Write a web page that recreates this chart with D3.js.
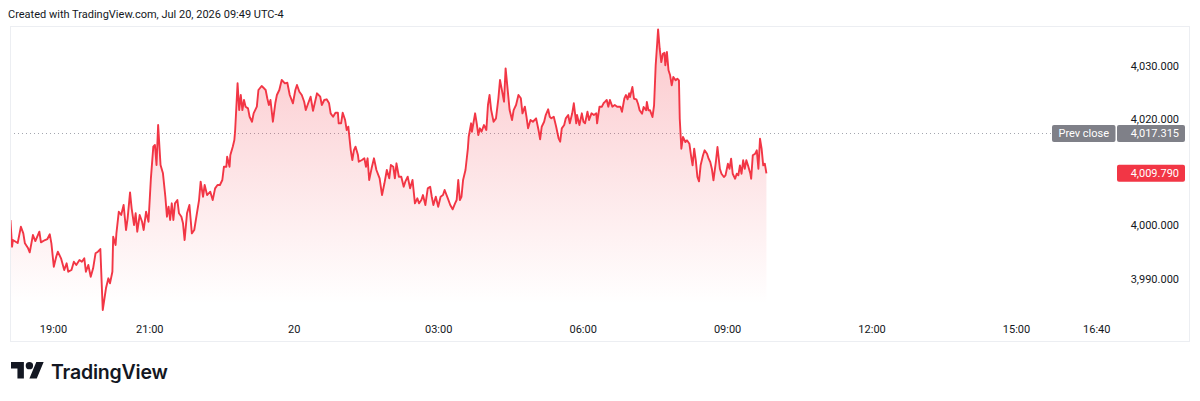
<!DOCTYPE html>
<html>
<head>
<meta charset="utf-8">
<script src="https://cdn.jsdelivr.net/npm/d3@7"></script>
<style>
  html, body { margin: 0; padding: 0; background: #fff; }
  svg { display: block; font-family: Roboto, "Noto Sans", sans-serif; }
</style>
</head>
<body>
<div id="chart"></div>
<script>
// minutes since the 18:00 session open (Jul 19)
const minutes = [
  7,9,10,16,20,23,25,29,31,35, 38,43,45,50,53,56,58,61,64,66,
  70,74,77,79,83,86,89,93,96,99, 101,104,107,110,113,116,119,122,126,129,
  131,134,135,138,139,142,145,148,151,153, 156,158,161,163,165,168,171,173,176,179,
  182,185,187,189,191,194,197,200,202,204, 206,208,210,212,215,217,220,222,224,227,
  230,233,236,239,242,244,247,249,252,256, 259,262,265,268,271,273,276,277,280,281,
  284,286,287,290,292,294,296,298,300,303, 305,308,310,314,316,320,323,325,327,329,
  331,334,337,339,342,345,349,352,355,359, 362,364,367,370,373,375,378,381,384,389,
  393,395,398,401,404,406,409,412,415,416, 419,421,424,426,428,431,433,435,437,440,
  441,445,448,450,452,454,457,460,463,467, 470,473,476,479,481,484,486,488,491,494,
  497,499,502,505,508,511,514,516,519,521, 524,527,530,532,534,537,540,543,546,548,
  552,555,558,561,563,565,567,569,571,574, 577,578,581,582,586,588,590,592,594,597,
  600,602,604,606,609,612,615,617,619,622, 624,627,629,632,634,637,640,643,645,648,
  650,652,655,658,662,665,667,669,672,674, 677,679,681,684,687,690,692,694,697,699,
  702,704,707,709,712,713,716,719,721,723, 726,728,731,734,737,738,741,744,746,748,
  750,752,754,757,760,763,767,769,772,774, 776,778,779,782,784,787,789,791,794,796,
  799,800,802,804,807,809,811,813,814,816, 818,820,822,823,825,827,829,831,833,836,
  838,840,841,843,845,848,850,853,855,857, 859,861,863,865,867,870,872,875,877,879,
  881,883,886,888,891,893,896,898,901,903, 905,907,910,912,914,916,918,920,922,924,
  926,929,930,932,935,937,939,941,943,945, 947,949
];

const prices = [
  4001.01,3995.98,3997.24,3996.68,3999.75,3998.50,3996.62,3995.68,3994.93,3998.18,
  3997.05,3998.81,3996.81,3997.24,3997.43,3998.32,3996.62,3992.22,3994.10,3995.04,
  3993.80,3991.60,3992.86,3991.28,3991.60,3993.16,3992.54,3993.48,3993.16,3993.80,
  3991.28,3992.54,3990.33,3991.92,3994.74,3995.04,3995.55,3984.07,3988.15,3990.03,
  3989.09,3991.28,3997.86,3996.30,3998.50,4002.57,4001.95,4003.83,3999.13,4001.33,
  4006.22,4003.21,4000.07,4002.27,3998.81,4001.95,4000.69,3999.13,4002.57,4000.69,
  4008.86,4014.81,4015.13,4011.36,4018.89,4011.36,4009.80,4005.39,4001.63,4003.51,
  4001.01,4004.15,4001.01,4004.15,4004.77,4002.27,4001.63,4000.39,3997.24,4002.27,
  4003.83,3998.50,3999.13,4001.95,4004.77,4008.22,4005.39,4007.60,4005.71,4006.34,
  4004.77,4006.97,4007.60,4007.60,4008.54,4011.04,4011.04,4012.92,4011.04,4013.24,
  4014.81,4016.07,4017.95,4026.74,4021.71,4024.54,4021.71,4023.60,4022.34,4022.03,
  4020.45,4019.51,4021.09,4022.34,4025.48,4026.23,4025.80,4025.48,4023.92,4022.66,
  4023.60,4019.51,4022.98,4024.54,4025.48,4027.36,4026.74,4026.85,4024.54,4022.98,
  4025.48,4026.42,4025.16,4024.54,4023.28,4021.71,4022.98,4024.22,4021.58,4024.86,
  4024.22,4022.66,4023.60,4023.73,4022.98,4021.09,4020.45,4021.21,4021.21,4019.21,
  4019.21,4021.21,4019.83,4017.95,4018.57,4014.18,4012.30,4014.18,4014.81,4013.24,
  4011.98,4012.30,4012.62,4011.04,4012.62,4008.54,4010.74,4012.62,4010.42,4008.86,
  4005.71,4007.92,4010.42,4008.86,4011.36,4011.04,4008.86,4011.68,4009.16,4009.16,
  4007.28,4008.22,4009.16,4006.97,4008.54,4004.15,4005.09,4004.15,4004.77,4005.71,
  4003.83,4006.97,4007.28,4005.39,4003.83,4005.39,4003.51,4005.39,4005.71,4006.66,
  4005.09,4003.83,4003.02,4004.15,4004.77,4008.54,4004.77,4005.39,4008.54,4010.42,
  4014.51,4016.69,4019.21,4017.63,4021.09,4019.21,4017.01,4018.27,4017.63,4018.89,
  4017.95,4022.66,4024.54,4021.71,4019.51,4020.15,4023.92,4027.36,4025.80,4023.28,
  4029.56,4024.86,4021.71,4019.83,4021.71,4022.66,4024.54,4023.92,4021.09,4022.34,
  4020.45,4018.27,4019.83,4019.51,4020.15,4017.95,4016.20,4018.57,4019.51,4020.77,
  4021.85,4020.45,4020.15,4020.45,4018.57,4016.39,4015.75,4018.27,4018.89,4020.15,
  4020.77,4019.21,4021.09,4022.98,4019.21,4020.77,4018.89,4021.09,4019.51,4019.21,
  4021.39,4019.83,4021.09,4020.77,4021.09,4019.21,4022.34,4022.34,4022.98,4023.28,
  4023.60,4022.34,4023.60,4022.34,4022.66,4022.34,4022.34,4021.39,4023.92,4024.54,
  4023.73,4024.86,4024.16,4026.04,4023.84,4023.73,4022.90,4021.66,4021.02,4022.28,
  4021.66,4023.22,4021.66,4021.66,4020.40,4022.60,4030.13,4034.51,4036.90,4033.25,
  4030.75,4032.31,4032.50,4030.13,4032.63,4029.19,4028.25,4026.36,4027.93,4027.30,
  4027.61,4027.30,4020.08,4014.43,4016.63,4015.69,4016.01,4015.37,4013.19,4011.30,
  4014.43,4012.25,4009.10,4008.29,4011.30,4013.19,4014.13,4013.49,4012.55,4011.93,
  4010.66,4008.48,4011.93,4014.75,4010.66,4009.72,4009.10,4009.42,4011.61,4010.66,
  4012.55,4009.72,4008.78,4009.72,4009.42,4011.30,4009.72,4012.25,4010.66,4012.25,
  4011.30,4009.72,4008.78,4013.19,4013.49,4014.13,4010.66,4016.31,4014.43,4011.30,
  4011.61,4009.79
];

const timeTickMinutes = [60, 180, 360, 540, 720, 900, 1080, 1260, 1360];
const timeTickLabels = ["19:00", "21:00", "20", "03:00", "06:00", "09:00", "12:00", "15:00", "16:40"];
const priceTicks = [3990, 4000, 4020, 4030];
const prevClose = 4017.315;
const lastPrice = 4009.79;
const headerText = "Created with TradingView.com, Jul 20, 2026 09:49 UTC-4";

const W = 1200, H = 401;
const RED = "#f23645";
const TEXT = "#131722";
const frame = { left: 10, top: 26, right: 1190, bottom: 342 };
const plot = { left: 10, top: 26, right: 1113, bottom: 313 };
const fillBottom = 304; // area fades out a bit above the time axis
const fmt = d3.format(",.3f");

const data = minutes.map((m, i) => ({ m: m, p: prices[i] }));

const svg = d3.select("#chart").append("svg").attr("width", W).attr("height", H);

// session 18:00 -> 17:00 next day
const x = d3.scaleLinear().domain([0, 1380]).range([4.85, 1112.3]);
const y = d3.scaleLinear().domain([3990, 4030]).range([278.5, 66]);

svg.append("text")
  .attr("x", 8).attr("y", 18)
  .attr("font-size", "11px").attr("fill", TEXT)
  .text(headerText);

svg.append("rect")
  .attr("x", frame.left + 0.5).attr("y", frame.top + 0.5)
  .attr("width", frame.right - frame.left - 1).attr("height", frame.bottom - frame.top - 1)
  .attr("fill", "none").attr("stroke", "#eceef2");

const defs = svg.append("defs");
defs.append("clipPath").attr("id", "plotClip")
  .append("rect")
  .attr("x", plot.left + 1).attr("y", plot.top + 1)
  .attr("width", plot.right - plot.left).attr("height", plot.bottom - plot.top);

const grad = defs.append("linearGradient")
  .attr("id", "areaGrad")
  .attr("gradientUnits", "userSpaceOnUse")
  .attr("x1", 0).attr("x2", 0).attr("y1", plot.top).attr("y2", fillBottom);
grad.append("stop").attr("offset", "0%").attr("stop-color", RED).attr("stop-opacity", 0.28);
grad.append("stop").attr("offset", "100%").attr("stop-color", RED).attr("stop-opacity", 0.0);

const g = svg.append("g").attr("clip-path", "url(#plotClip)");

// prev close dotted line
g.append("line")
  .attr("x1", plot.left).attr("x2", 1052)
  .attr("y1", Math.round(y(prevClose)) + 0.5).attr("y2", Math.round(y(prevClose)) + 0.5)
  .attr("stroke", "#a3a6af").attr("stroke-width", 1).attr("stroke-dasharray", "1,3");

const area = d3.area()
  .x((d) => x(d.m))
  .y0(fillBottom)
  .y1((d) => y(d.p));

const line = d3.line()
  .x((d) => x(d.m))
  .y((d) => y(d.p));

g.append("path").datum(data).attr("d", area).attr("fill", "url(#areaGrad)");
g.append("path").datum(data).attr("d", line)
  .attr("fill", "none").attr("stroke", RED)
  .attr("stroke-width", 1.9).attr("stroke-linejoin", "round");

// time axis
const xAxis = svg.append("g")
  .attr("transform", `translate(0, ${plot.bottom + 9})`)
  .call(d3.axisBottom(x).tickValues(timeTickMinutes).tickSize(0)
    .tickFormat((d, i) => timeTickLabels[i]));
xAxis.select(".domain").remove();
xAxis.selectAll("text").attr("font-size", "11px").attr("fill", TEXT)
  .attr("font-family", "Roboto, sans-serif");

// price axis
const yAxis = svg.append("g")
  .attr("transform", "translate(1179, 0)")
  .call(d3.axisLeft(y).tickValues(priceTicks).tickSize(0).tickPadding(0).tickFormat(fmt));
yAxis.select(".domain").remove();
yAxis.selectAll("text").attr("font-size", "11px").attr("fill", TEXT)
  .attr("font-family", "Roboto, sans-serif");

// price labels
function priceLabel(val, fill, left, title) {
  const cy = y(val);
  const lg = svg.append("g");
  if (title) {
    lg.append("rect")
      .attr("x", 1052).attr("y", cy - 8.5).attr("width", 63.5).attr("height", 17)
      .attr("rx", 2).attr("fill", fill);
    lg.append("text")
      .attr("x", 1052 + 31.75).attr("y", cy + 4)
      .attr("text-anchor", "middle").attr("font-size", "11px").attr("fill", "#fff")
      .text(title);
  }
  lg.append("rect")
    .attr("x", left).attr("y", cy - 8.5).attr("width", 1185 - left).attr("height", 17)
    .attr("rx", 2).attr("fill", fill);
  lg.append("text")
    .attr("x", 1179).attr("y", cy + 4)
    .attr("text-anchor", "end").attr("font-size", "11px").attr("fill", "#fff")
    .text(fmt(val));
}
priceLabel(prevClose, "#7f8088", 1117, "Prev close");
priceLabel(lastPrice, RED, 1117, null);

// logo
const logo = svg.append("g").attr("transform", "translate(11, 358.3) scale(0.92)");
logo.append("path").attr("d", "M14 22H7V11H0V4h14v18zM28 22h-8l7.5-18h8L28 22z").attr("fill", TEXT);
logo.append("circle").attr("cx", 20).attr("cy", 8).attr("r", 4).attr("fill", TEXT);

svg.append("text")
  .attr("x", 51).attr("y", 378.5)
  .attr("font-family", "Inter, Roboto, sans-serif")
  .attr("font-size", "19.5px").attr("font-weight", 600).attr("fill", TEXT)
  .attr("letter-spacing", "-0.2")
  .text("TradingView");
</script>
</body>
</html>
